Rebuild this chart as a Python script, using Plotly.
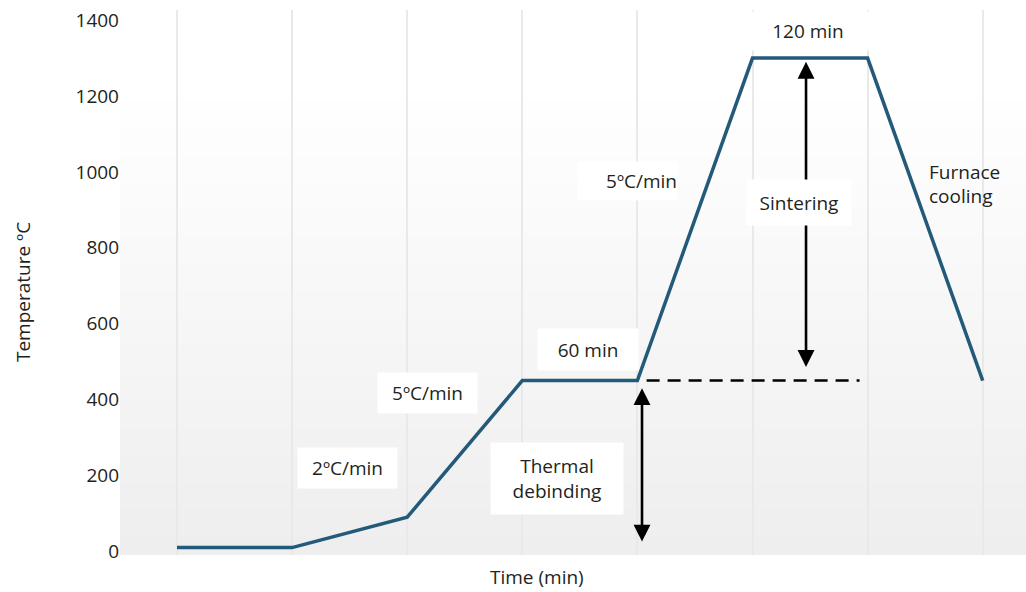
import plotly.graph_objects as go

# Sintering schedule: equally spaced process stages and the furnace temperature at each
stage = [0, 1, 2, 3, 4, 5, 6, 7]
temperature = [10, 10, 90, 450, 450, 1300, 1300, 450]

debinding_temp = 450
sintering_temp = 1300

y_tick_values = [0, 200, 400, 600, 800, 1000, 1200, 1400]
y_tick_labels = ["0", "200", "400", "600", "800", "1000", "1200", "1400"]

LINE_COLOR = "#235a7a"
TEXT_COLOR = "#231f20"
FONT = "Open Sans"

fig = go.Figure()

fig.add_trace(go.Scatter(
    x=stage, y=temperature, mode="lines",
    line=dict(color=LINE_COLOR, width=3.5),
    hoverinfo="skip", showlegend=False,
))

# soft vertical gradient behind the plot
shapes = []
n_bands = 60
top, bottom = (255, 255, 255), (238, 238, 238)
for k in range(n_bands):
    t = k / (n_bands - 1)
    c = tuple(round(bottom[j] + (top[j] - bottom[j]) * min(1, t * 1.15)) for j in range(3))
    shapes.append(dict(
        type="rect", xref="x domain", yref="y domain",
        x0=0, x1=1, y0=k / n_bands, y1=(k + 1) / n_bands + 0.002,
        fillcolor="rgb(%d,%d,%d)" % c, line=dict(width=0), layer="below",
    ))

# dashed reference at the debinding hold temperature
shapes.append(dict(
    type="line", xref="x", yref="y",
    x0=4.08, x1=5.93, y0=debinding_temp, y1=debinding_temp,
    line=dict(color="black", width=2.5, dash="13px,8px"), layer="above",
))

annotations = []


def double_arrow(x, y_low, y_high):
    annotations.append(dict(
        x=x, y=y_high, ax=x, ay=y_low, xref="x", yref="y", axref="x", ayref="y",
        text="", showarrow=True, arrowhead=2, startarrowhead=2,
        arrowside="end+start", arrowsize=1.3, startarrowsize=1.3,
        arrowwidth=2.6, arrowcolor="black", standoff=0, startstandoff=0,
    ))


double_arrow(4.04, 22, debinding_temp - 20)
double_arrow(5.465, debinding_temp + 32, sintering_temp - 10)


def label(text, x, y, w=None, h=None, align="center", bg="white"):
    a = dict(
        x=x, y=y, xref="x", yref="y", text=text, showarrow=False,
        font=dict(family=FONT, size=19, color=TEXT_COLOR),
        align=align, bgcolor=bg, borderpad=0,
        xanchor="center", yanchor="middle",
    )
    if w:
        a["width"] = w
    if h:
        a["height"] = h
    annotations.append(a)


label("2ºC/min", 1.48, 220, 99, 40)
label("5ºC/min", 2.177, 417, 99, 40)
label("60 min", 3.571, 532, 100, 41)
label("5ºC/min", 3.914, 976, 99, 38, align="right")
label("Thermal<br>debinding", 3.301, 192, 132, 71)
label("Sintering", 5.40, 919, 104, 45)
label("120 min", 5.482, 1371, 130, 38)
label("Furnace<br>cooling", 6.88, 969, 80, 60, align="left", bg="rgba(0,0,0,0)")

# axis titles
annotations.append(dict(
    x=3.128, y=-0.040, xref="x", yref="paper", text="Time (min)", showarrow=False,
    font=dict(family=FONT, size=19, color=TEXT_COLOR), xanchor="center", yanchor="middle",
))
annotations.append(dict(
    x=-0.107, y=0.4826, xref="paper", yref="paper", text="Temperature ºC", showarrow=False,
    textangle=-90, font=dict(family=FONT, size=19, color=TEXT_COLOR),
    xanchor="center", yanchor="middle",
))

fig.update_layout(
    width=1026, height=592,
    margin=dict(l=120, r=0, t=10, b=37),
    paper_bgcolor="white", plot_bgcolor="white",
    shapes=shapes, annotations=annotations,
    font=dict(family=FONT, size=19, color=TEXT_COLOR),
    xaxis=dict(
        range=[-0.495, 7.376], showticklabels=False, ticks="",
        showgrid=True, gridcolor="#e9e9e9", gridwidth=1.5,
        tick0=0, dtick=1, zeroline=False, showline=False,
    ),
    yaxis=dict(
        range=[-9.5, 1426.6], tickvals=y_tick_values, ticktext=y_tick_labels,
        ticks="", showgrid=False, zeroline=False, showline=False,
        tickfont=dict(family=FONT, size=19, color=TEXT_COLOR),
    ),
)

fig.write_html("out.html")
